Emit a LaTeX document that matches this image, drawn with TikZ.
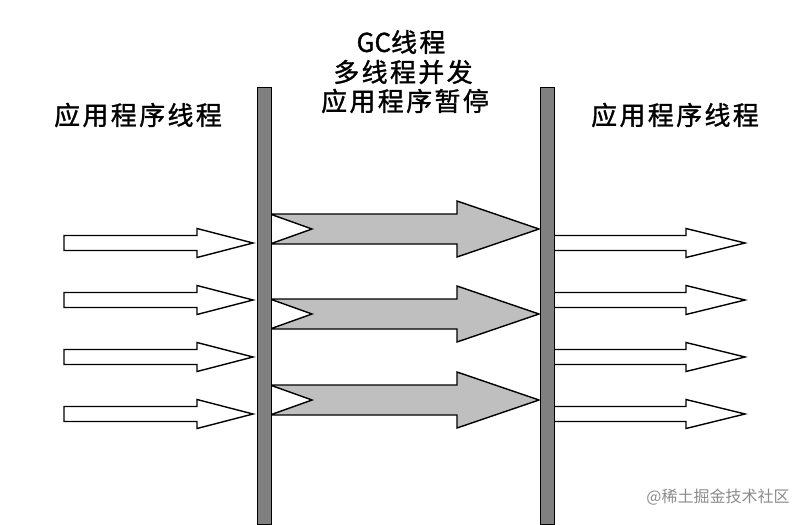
\documentclass[tikz,border=0pt]{standalone}
\usepackage{fontspec}
\newfontfamily\cjk[LetterSpace=9,FakeBold=1.2]{Noto Sans CJK SC}
\newfontfamily\cjkg[FakeBold=1.2]{Noto Sans CJK SC}
\newfontfamily\cjkw{Noto Sans CJK SC}
\begin{document}
\begin{tikzpicture}[x=1pt,y=-1pt,
  hollow/.style={draw=black,line width=1.4pt,fill=white,line join=miter},
  grayarrow/.style={draw=black,line width=1.4pt,fill=black!25,line join=miter},
  bar/.style={draw=black,line width=1pt,fill=black!50},
  lbl/.style={inner sep=0pt,font=\cjk\fontsize{26}{26}\selectfont,text=black},
  wm/.style={inner sep=0pt,font=\cjkw\fontsize{16}{16}\selectfont,text=black!45}]
\useasboundingbox[fill=white] (0,0) rectangle (810,524);
% left application threads
\foreach \y in {243,300,357,414}{
  \draw[hollow] (64,\y-7.5) -- (197,\y-7.5) -- (197,\y-14.5) -- (253,\y) -- (197,\y+14.5) -- (197,\y+7.5) -- (64,\y+7.5) -- cycle;
}
% GC threads
\foreach \y in {229,314,400}{
  \draw[grayarrow] (270,\y-15) -- (457,\y-15) -- (457,\y-28) -- (539,\y) -- (457,\y+28) -- (457,\y+15) -- (270,\y+15) -- (312,\y) -- cycle;
}
% right application threads
\foreach \y in {243,300,357,414}{
  \draw[hollow] (552,\y-7.5) -- (686,\y-7.5) -- (686,\y-14.5) -- (745,\y) -- (686,\y+14.5) -- (686,\y+7.5) -- (552,\y+7.5) -- cycle;
}
% bars
\draw[bar] (257,88) rectangle (271,524);
\draw[bar] (540,88) rectangle (554,524);
% labels
\node[lbl] (la) at (138,115) {应用程序线程};
\node[lbl] (ra) at (675,115) {应用程序线程};
\node[lbl] (t1) at (401,42) {{\cjkg GC}线程};
\node[lbl] (t2) at (403,72) {多线程并发};
\node[lbl] (t3) at (405,101) {应用程序暂停};
\node[wm] (w) at (718,497) {@稀土掘金技术社区};
\end{tikzpicture}
\end{document}
